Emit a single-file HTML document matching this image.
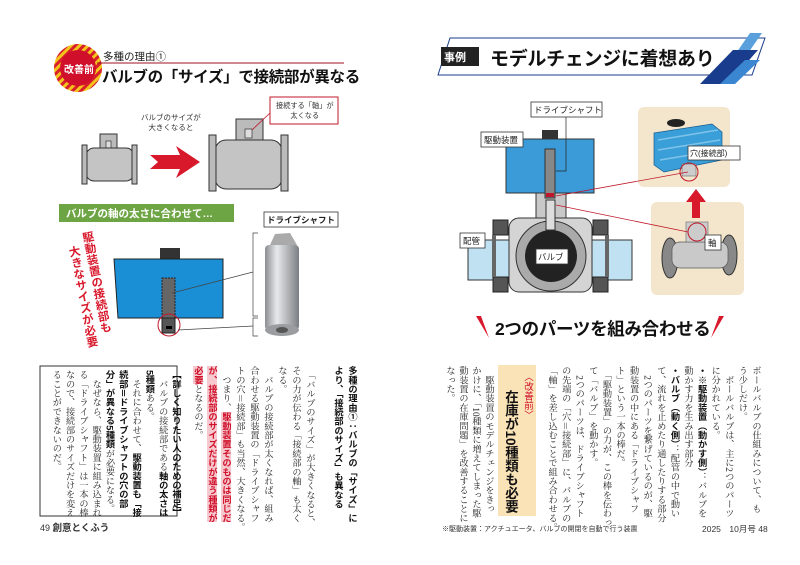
<!DOCTYPE html>
<html><head><meta charset="utf-8"><style>
body{margin:0;width:800px;height:565px;background:#fff;position:relative;overflow:hidden;font-family:"Liberation Sans","Noto Sans CJK JP",sans-serif;}
.v{position:absolute;writing-mode:vertical-rl;font-family:"Liberation Serif","Noto Serif CJK SC",serif;font-size:9.2px;line-height:14px;color:#222;white-space:nowrap;}
.b{font-family:"Liberation Sans","Noto Sans CJK JP",sans-serif;font-weight:bold;color:#111;}
.hl{background:#f6c9cf;color:#d0102a;font-family:"Liberation Sans","Noto Sans CJK JP",sans-serif;font-weight:bold;}
.abs{position:absolute;white-space:nowrap;}
</style></head><body>
<svg width="800" height="565" style="position:absolute;left:0;top:0" xmlns="http://www.w3.org/2000/svg">
<defs>
<pattern id="st" width="6" height="6" patternUnits="userSpaceOnUse" patternTransform="rotate(45)"><rect width="6" height="6" fill="#f3c51c"/><rect width="3" height="6" fill="#d81e2a"/></pattern>
<linearGradient id="cy" x1="0" x2="1"><stop offset="0" stop-color="#8a8d92"/><stop offset=".35" stop-color="#e8e9eb"/><stop offset="1" stop-color="#7b7e83"/></linearGradient>
</defs>
<circle cx="78" cy="68" r="24" fill="url(#st)"/>
<circle cx="78" cy="68" r="18" fill="#d0102a"/>
<line x1="97" y1="63" x2="344" y2="63" stroke="#a01020" stroke-width="1"/>
<rect x="100" y="134" width="17" height="15" fill="#bbb" stroke="#333" stroke-width="1"/>
<rect x="106" y="141" width="5" height="8" fill="#ddd" stroke="#333" stroke-width=".7"/>
<rect x="86" y="148" width="48" height="33" rx="8" fill="#c4c4c4" stroke="#333" stroke-width="1"/>
<rect x="82" y="145" width="5" height="39" fill="#bbb" stroke="#333"/>
<rect x="132" y="145" width="5" height="39" fill="#bbb" stroke="#333"/>
<polygon points="150,155 180,155 176,146 200,162 176,178 180,169 150,169 158,162" fill="#d8192c"/>
<rect x="236" y="119" width="27" height="22" fill="#bbb" stroke="#333"/>
<rect x="245" y="129" width="7" height="9" fill="#ddd" stroke="#333" stroke-width=".7"/>
<rect x="215" y="140" width="67" height="49" rx="11" fill="#c4c4c4" stroke="#333"/>
<rect x="209" y="135" width="7" height="56" fill="#bbb" stroke="#333"/>
<rect x="281" y="135" width="7" height="56" fill="#bbb" stroke="#333"/>
<rect x="270" y="97" width="68" height="27" fill="#fff" stroke="#c0182a" stroke-width="1"/>
<line x1="270" y1="113" x2="252" y2="130" stroke="#c0182a" stroke-width=".8"/>
<rect x="59" y="204" width="175" height="18" fill="#6ea544"/>
<rect x="160" y="248" width="20" height="11" fill="#333"/>
<polygon points="114,259 223,259 223,318 118,318" fill="#1a8fd6" stroke="#222"/>
<rect x="162" y="278" width="13" height="40" fill="#666" stroke="#222" stroke-dasharray="2,1"/>
<rect x="162" y="318" width="13" height="15" fill="#555" stroke="#222"/>
<rect x="166" y="326" width="6" height="3" fill="#000"/>
<circle cx="169" cy="325" r="11" fill="none" stroke="#c0182a" stroke-width="1"/>
<line x1="172" y1="293" x2="253" y2="272" stroke="#444" stroke-width=".7"/>
<line x1="178" y1="330" x2="253" y2="326" stroke="#444" stroke-width=".7"/>
<polyline points="258,233 253,233 253,316 258,316" fill="none" stroke="#444" stroke-width=".7"/>
<polyline points="258,318 253,318 253,336 258,336" fill="none" stroke="#444" stroke-width=".7"/>
<rect x="265" y="245" width="34" height="85" rx="4" fill="url(#cy)"/>
<path d="M270,245 L275,234 L290,233 L297,245 Z" fill="#aaa"/>
<ellipse cx="282" cy="330" rx="17" ry="6" fill="#9a9ca0"/>
<ellipse cx="282" cy="330" rx="6" ry="3" fill="#555"/>
<rect x="264" y="212" width="74" height="15" fill="#fff" stroke="#333" stroke-width=".8"/>
<rect x="40" y="366" width="137" height="150" fill="none" stroke="#333" stroke-width="1"/>

<polygon points="450,38 765,38 752,75 438,75" fill="#fff" stroke="#1a3c8c" stroke-width="1"/>
<rect x="441" y="47" width="38" height="19" fill="#222"/>
<polygon points="750,33 762,33 735,72 723,72" fill="#5aa0dc"/>
<polygon points="733,50 758,50 728,84 700,84" fill="#1a3c8c"/>
<polygon points="745,60 760,60 735,84 720,84" fill="#3a86d0"/>
<rect x="468" y="240" width="164" height="40" fill="#bfe1f2" stroke="#333"/>
<rect x="536" y="192" width="30" height="30" fill="#c8c8c8" stroke="#333"/>
<rect x="509" y="218" width="83" height="74" rx="10" fill="#d4d4d4" stroke="#333"/>
<rect x="493" y="220" width="15" height="15" fill="#555" stroke="#222"/>
<rect x="493" y="277" width="15" height="15" fill="#555" stroke="#222"/>
<rect x="593" y="220" width="15" height="15" fill="#555" stroke="#222"/>
<rect x="593" y="277" width="15" height="15" fill="#555" stroke="#222"/>
<rect x="492" y="235" width="4" height="42" fill="#666"/>
<rect x="605" y="235" width="4" height="42" fill="#666"/>
<circle cx="551" cy="256" r="35" fill="#aaa" stroke="#333"/>
<circle cx="551" cy="256" r="26" fill="#222"/>
<rect x="546" y="200" width="9" height="30" fill="#ddd" stroke="#333"/>
<rect x="542" y="130" width="16" height="10" fill="#333"/>
<rect x="506" y="139" width="88" height="54" fill="#3b9bd8" stroke="#333"/>
<rect x="545" y="149" width="10" height="49" fill="#888" stroke="#333"/>
<rect x="546" y="193" width="8" height="4" fill="#c0182a"/>
<polyline points="566,117 566,171 556,171" fill="none" stroke="#222" stroke-width=".7"/>
<rect x="531" y="102" width="71" height="15" fill="#fff" stroke="#333" stroke-width=".8"/>
<rect x="481" y="132" width="42" height="15" fill="#fff" stroke="#333" stroke-width=".8"/>
<rect x="460" y="233" width="25" height="15" fill="#fff" stroke="#333" stroke-width=".8"/>
<rect x="536" y="249" width="32" height="15" fill="#fff" stroke="#333" stroke-width=".8"/>
<rect x="638" y="107" width="92" height="80" rx="6" fill="#f3e6cc"/>
<rect x="651" y="202" width="93" height="93" rx="6" fill="#f3e6cc"/>
<path d="M654,133 L712,124 L722,132 L722,160 L664,172 L654,165 Z" fill="#3a9fd8" stroke="#1a5a90" stroke-width=".7"/>
<path d="M658,140 L718,130 M658,150 L720,140 M660,160 L720,150" stroke="#7fc3ea" stroke-width="1.5"/>
<ellipse cx="676" cy="123" rx="9" ry="4" fill="#222"/>
<rect x="682" y="164" width="14" height="12" fill="#ccc" stroke="#666" stroke-width=".6"/>
<circle cx="689" cy="172" r="9" fill="none" stroke="#c0182a"/>
<rect x="688" y="146" width="52" height="14" fill="#fff" stroke="#333" stroke-width=".8"/>
<polygon points="692,218 692,202 686,202 696,189 706,202 700,202 700,218" fill="#d8192c"/>
<ellipse cx="670" cy="258" rx="8" ry="20" fill="#888" stroke="#333"/>
<ellipse cx="729" cy="255" rx="8" ry="20" fill="#888" stroke="#333"/>
<rect x="672" y="242" width="56" height="26" rx="8" fill="#c9c9c9" stroke="#555" stroke-width=".7"/>
<rect x="686" y="222" width="22" height="20" fill="#ccc" stroke="#666" stroke-width=".6"/>
<circle cx="697" cy="232" r="9" fill="none" stroke="#c0182a"/>
<rect x="705" y="235" width="16" height="15" fill="#fff" stroke="#333" stroke-width=".8"/>
<line x1="556" y1="196" x2="688" y2="172" stroke="#c0182a" stroke-width=".8"/>
<line x1="556" y1="205" x2="688" y2="232" stroke="#c0182a" stroke-width=".8"/>
<polygon points="476,316 481,316 489,338" fill="#d8192c"/>
<polygon points="724,316 719,316 711,338" fill="#d8192c"/>
<rect x="498" y="365" width="38" height="151" fill="#fbe3b8"/>
</svg>

<div class="abs" style="left:64px;top:61px;font-size:10px;font-weight:bold;color:#fff;">改善前</div>
<div class="abs" style="left:103px;top:49px;font-size:10.5px;color:#222;">多種の理由①</div>
<div class="abs" style="left:102px;top:65px;font-size:15.5px;font-weight:bold;color:#111;letter-spacing:-0.3px;">バルブの「サイズ」で接続部が異なる</div>
<div class="abs" style="left:141px;top:113px;font-size:7.5px;line-height:10px;color:#333;text-align:center;">バルブのサイズが<br>大きくなると</div>
<div class="abs" style="left:276px;top:101px;font-size:7.2px;line-height:10px;color:#333;text-align:center;">接続する「軸」が<br>太くなる</div>
<div class="abs" style="left:66px;top:206px;font-size:10.5px;font-weight:bold;color:#fff;">バルブの軸の太さに合わせて…</div>
<div class="abs" style="left:267px;top:214px;font-size:8.5px;font-weight:bold;color:#222;">ドライブシャフト</div>
<div class="abs" style="left:62px;top:230px;writing-mode:vertical-rl;font-size:11.5px;line-height:16px;font-weight:bold;color:#d8192c;transform:rotate(-11deg);transform-origin:top right;">駆動装置の接続部も<br>　大きなサイズが必要</div>

<div class="v" style="right:441px;top:366px;"><span class="b">多種の理由①：バルブの「サイズ」に</span><br><span class="b">より、「接続部のサイズ」も異なる</span><br><br>　「バルブのサイズ」が大きくなると、<br>その力が伝わる「接続部の軸」も太く<br>なる。<br>　バルブの接続部が太くなれば、組み<br>合わせる駆動装置の「ドライブシャフ<br>トの穴＝接続部」も当然、大きくなる。<br>　つまり、<span class="hl">駆動装置そのものは同じだ</span><br><span class="hl">が、接続部のサイズだけが違う種類が</span><br><span class="hl">必要</span>となるのだ。</div>
<div class="v" style="right:618px;top:370px;line-height:13.3px;"><span class="b">【詳しく知りたい人のための補足】</span><br>　バルブの接続部である<span class="b">軸の太さは</span><br><span class="b">5種類</span>ある。<br>　それに合わせて、<span class="b">駆動装置も「接</span><br><span class="b">続部＝ドライブシャフトの穴の部</span><br><span class="b">分」が異なる5種類</span>が必要になる。<br>　なぜなら、駆動装置に組み込まれ<br>る「ドライブシャフト」は一本の棒<br>なので、接続部のサイズだけを変え<br>ることができないのだ。</div>
<div class="abs" style="left:40px;top:520px;font-size:9px;color:#333;">49 <b style="font-size:9.5px;">創意とくふう</b></div>

<div class="abs" style="left:444px;top:49px;font-size:11px;font-weight:bold;color:#fff;">事例</div>
<div class="abs" style="left:490px;top:44px;font-size:19px;font-weight:bold;color:#111;letter-spacing:-0.3px;">モデルチェンジに着想あり</div>
<div class="abs" style="left:534px;top:104px;font-size:8.5px;color:#222;">ドライブシャフト</div>
<div class="abs" style="left:484px;top:134px;font-size:8.5px;color:#222;">駆動装置</div>
<div class="abs" style="left:463px;top:235px;font-size:8.5px;color:#222;">配管</div>
<div class="abs" style="left:538px;top:251px;font-size:8.5px;color:#222;">バルブ</div>
<div class="abs" style="left:690px;top:148px;font-size:8px;color:#222;">穴(接続部)</div>
<div class="abs" style="left:708px;top:237px;font-size:8.5px;color:#222;">軸</div>
<div class="abs" style="left:495px;top:316px;font-size:17.5px;font-weight:bold;color:#111;letter-spacing:-0.3px;">2つのパーツを組み合わせる</div>

<div class="v" style="right:38px;top:366px;line-height:13.6px;">ボールバルブの仕組みについて、も<br>う少しだけ。<br>　ボールバルブは、主に2つのパーツ<br>に分かれている。<br><span class="b">・※駆動装置（動かす側）</span>：バルブを<br>動かす力を生み出す部分<br><span class="b">・バルブ（動く側）</span>：配管の中で動い<br>て、流れを止めたり通したりする部分<br>　2つのパーツを繋げているのが、駆<br>動装置の中にある「ドライブシャフ<br>ト」という一本の棒だ。<br>　「駆動装置」の力が、この棒を伝わっ<br>て「バルブ」を動かす。<br>　2つのパーツは、ドライブシャフト<br>の先端の「穴＝接続部」に、バルブの<br>「軸」を差し込むことで組み合わせる。</div>
<div class="abs" style="left:520px;top:372px;writing-mode:vertical-rl;font-size:9.5px;color:#d0102a;">〈改善前〉</div>
<div class="abs" style="left:500px;top:390px;writing-mode:vertical-rl;font-size:13.5px;font-weight:bold;color:#111;">在庫が10種類も必要</div>
<div class="v" style="right:305px;top:366px;line-height:13px;">　駆動装置のモデルチェンジをきっ<br>かけに、「10種類に増えてしまった駆<br>動装置の在庫問題」を改善することに<br>なった。</div>
<div class="abs" style="left:442px;top:524px;font-size:7px;color:#333;">※駆動装置：アクチュエータ、バルブの開閉を自動で行う装置</div>
<div class="abs" style="left:702px;top:523px;font-size:8.5px;color:#333;">2025　10月号 48</div>
</body></html>
